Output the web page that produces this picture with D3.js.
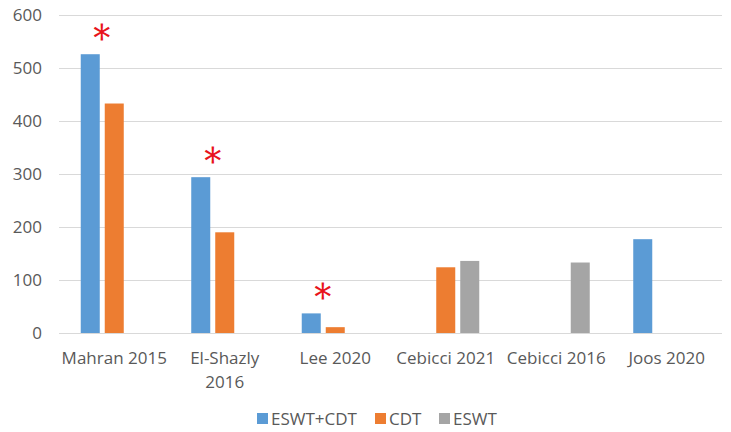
<!DOCTYPE html>
<html><head><meta charset="utf-8">
<script src="https://cdn.jsdelivr.net/npm/d3@7"></script>
<style>body{margin:0;background:#fff}svg{display:block}text{font-family:"Open Sans",sans-serif}</style>
</head><body><svg id="c" width="731" height="432"></svg>
<script>
const categories = ["Mahran 2015", "El-Shazly 2016", "Lee 2020", "Cebicci 2021", "Cebicci 2016", "Joos 2020"];
const seriesNames = ["ESWT+CDT", "CDT", "ESWT"];
const eswtCdt = [526, 294, 37, null, null, 177];
const cdt = [433, 190, 11, 124, null, null];
const eswt = [null, null, null, 136, 133, null];
const significant = [true, true, true, false, false, false];
const yTicks = [0, 100, 200, 300, 400, 500, 600];
const colors = ["#5B9BD5", "#ED7D31", "#A5A5A5"];

const values = [eswtCdt, cdt, eswt];
const svg = d3.select("#c");
const m = {l: 59, r: 9, t: 15, b: 99};
const W = 731, H = 432;
const y = d3.scaleLinear().domain([0, 600]).range([H - m.b, m.t]);
const x0 = d3.scaleBand().domain(categories).range([m.l, W - m.r]);
const x1 = d3.scaleBand().domain(seriesNames).range([-36, 36]).paddingInner(0.208).paddingOuter(0.104);

svg.append("g").selectAll("line").data(yTicks).join("line")
  .attr("x1", m.l).attr("x2", W - m.r)
  .attr("y1", d => y(d) + 0.5).attr("y2", d => y(d) + 0.5)
  .attr("stroke", "#D9D9D9").attr("stroke-width", 1.2);

const yAxis = d3.axisLeft(y).tickValues(yTicks).tickSize(0).tickPadding(0);
const ga = svg.append("g").attr("transform", `translate(${m.l - 17},0)`).call(yAxis);
ga.select(".domain").remove();
ga.selectAll("text").attr("font-size", 17).attr("fill", "#595959").attr("font-family", '"Open Sans",sans-serif');

const g = svg.append("g");
categories.forEach((c, i) => {
  const cx = x0(c) + x0.bandwidth() / 2;
  seriesNames.forEach((s, j) => {
    const v = values[j][i];
    if (v == null) return;
    g.append("rect")
      .attr("x", cx + x1(s)).attr("width", x1.bandwidth())
      .attr("y", y(v)).attr("height", y(0) - y(v))
      .attr("fill", colors[j]);
  });
  if (significant[i]) {
    const ax = cx + (x1(seriesNames[0]) + x1(seriesNames[1]) + x1.bandwidth()) / 2;
    svg.append("text").attr("x", ax).attr("y", y(values[0][i]) - 19)
      .attr("text-anchor", "middle").attr("dominant-baseline", "central")
      .attr("font-size", 40).attr("fill", "#E8141B")
      .attr("font-family", '"Noto Sans CJK SC",sans-serif')
      .text("＊");
  }
});

const labelLines = {"El-Shazly 2016": ["El-Shazly", "2016"]};
categories.forEach(c => {
  const cx = x0(c) + x0.bandwidth() / 2;
  const lines = labelLines[c] || [c];
  const t = svg.append("text").attr("x", cx).attr("y", 364).attr("text-anchor", "middle")
    .attr("font-size", 17).attr("fill", "#595959");
  lines.forEach((l, k) => t.append("tspan").attr("x", cx).attr("dy", k ? 24 : 0).text(l));
});

const legendX = [257, 375, 439];
const lg = svg.append("g");
seriesNames.forEach((s, j) => {
  lg.append("rect").attr("x", legendX[j]).attr("y", 413).attr("width", 11).attr("height", 11).attr("fill", colors[j]);
  lg.append("text").attr("x", legendX[j] + 14).attr("y", 425).attr("font-size", 17).attr("fill", "#595959").text(s);
});
</script></body></html>
